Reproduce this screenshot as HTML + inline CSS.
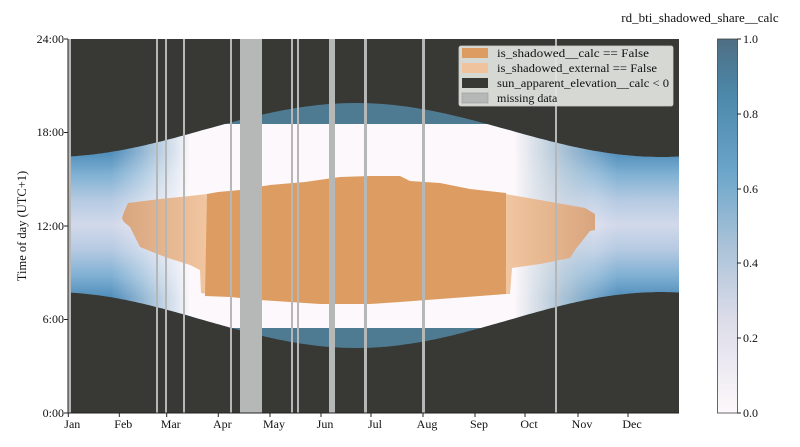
<!DOCTYPE html>
<html><head><meta charset="utf-8"><style>
body{margin:0;background:#fff;width:800px;height:442px;overflow:hidden;font-family:"Liberation Serif",serif;}
svg text{font-family:"Liberation Serif",serif;fill:#111;}
</style></head><body>
<svg id="s" width="800" height="442" viewBox="0 0 800 442" xmlns="http://www.w3.org/2000/svg">
<defs>
<clipPath id="plot"><rect x="68" y="39" width="611" height="374"/></clipPath>
<clipPath id="band"><rect x="0" y="124" width="800" height="204"/></clipPath>
<linearGradient id="wint" gradientUnits="userSpaceOnUse" x1="0" y1="152" x2="0" y2="298">
<stop offset="0" stop-color="#4f8dba"/><stop offset="0.15" stop-color="#7fb0d3"/><stop offset="0.33" stop-color="#b5cae2"/><stop offset="0.5" stop-color="#d2d9ea"/><stop offset="0.67" stop-color="#b5cae2"/><stop offset="0.85" stop-color="#7fb0d3"/><stop offset="1" stop-color="#4f8dba"/>
</linearGradient>
<linearGradient id="wm" gradientUnits="userSpaceOnUse" x1="68" y1="0" x2="679" y2="0">
<stop offset="0" stop-color="#fff"/><stop offset="0.2" stop-color="#fff"/><stop offset="0.27" stop-color="#000"/><stop offset="0.7" stop-color="#000"/><stop offset="0.86" stop-color="#fff"/><stop offset="1" stop-color="#fff"/>
</linearGradient>
<linearGradient id="whm" gradientUnits="userSpaceOnUse" x1="68" y1="0" x2="679" y2="0">
<stop offset="0.07" stop-color="#000"/><stop offset="0.2" stop-color="#fff"/><stop offset="0.73" stop-color="#fff"/><stop offset="0.9" stop-color="#000"/>
</linearGradient>
<mask id="m1"><rect x="0" y="0" width="800" height="442" fill="url(#wm)"/></mask>
<mask id="m2"><rect x="0" y="0" width="800" height="442" fill="url(#whm)"/></mask>
<linearGradient id="lo1" x1="0" y1="0" x2="1" y2="0"><stop offset="0" stop-color="#d8a57e"/><stop offset="1" stop-color="#f1c6a0"/></linearGradient>
<linearGradient id="lo2" x1="0" y1="0" x2="1" y2="0"><stop offset="0" stop-color="#f1c6a0"/><stop offset="1" stop-color="#d8a57e"/></linearGradient>
<linearGradient id="cb" x1="0" y1="1" x2="0" y2="0">
<stop offset="0" stop-color="#fdf8fb"/><stop offset="0.25" stop-color="#dcdce9"/><stop offset="0.45" stop-color="#a9c2d8"/><stop offset="0.65" stop-color="#6aa5c9"/><stop offset="0.85" stop-color="#4c88aa"/><stop offset="1" stop-color="#4e6e83"/>
</linearGradient>
</defs>
<g clip-path="url(#plot)">
<rect x="68" y="39" width="611" height="374" fill="#383834"/>
<path id="day1" fill="#4f7b92"/>
<path id="day2" fill="url(#wint)" mask="url(#m1)"/>
<g clip-path="url(#band)"><path id="day3" fill="#fdf8fb" mask="url(#m2)"/></g>
<path fill="url(#lo1)" d="M122,218 L124,212 L128,203 L160,199 L190,196 L207,194 L207,294 L201,293 L200,270 L190,265 L165,257 L140,247 L130,227 L124,222 Z"/>
<path fill="url(#lo2)" d="M505,194 L540,200 L585,208 L595,214 L595,230 L590,231 L575,250 L570,258 L540,264 L512,268 L510,294 L505,294 Z"/>
<path fill="#dd9d62" d="M207,194 L218,192 L240,190 L270,185 L305,182 L340,177 L370,176 L400,176 L410,181 L440,183 L470,189 L506,193 L506,294 L480,296 L440,299 L400,302 L370,304 L320,304 L290,302 L260,300 L230,297 L205,296 Z"/>
<g fill="#b5b8b7">
<rect x="68" y="39" width="3" height="374"/>
<rect x="156" y="39" width="2" height="374"/>
<rect x="165" y="39" width="2" height="374"/>
<rect x="183" y="39" width="2" height="374"/>
<rect x="230" y="39" width="2" height="374"/>
<rect x="240" y="39" width="22" height="374"/>
<rect x="291" y="39" width="2" height="374"/>
<rect x="297" y="39" width="2" height="374"/>
<rect x="329" y="39" width="6" height="374"/>
<rect x="364" y="39" width="3" height="374"/>
<rect x="422" y="39" width="3" height="374"/>
<rect x="555" y="39" width="2" height="374"/>
</g>
<rect x="459" y="46" width="214" height="60" rx="2" fill="#e2e4e1" fill-opacity="0.93" stroke="#ccc" stroke-width="0.8"/>
<rect x="462" y="48" width="26" height="10" fill="#dd9d62"/>
<rect x="462" y="63" width="26" height="10" fill="#eec39e"/>
<rect x="462" y="78" width="26" height="10" fill="#383834"/>
<rect x="462" y="93" width="26" height="10" fill="#b5b8b7" stroke="#999" stroke-width="0.6"/>
<g font-size="12"><text x="497" y="57" textLength="152" lengthAdjust="spacingAndGlyphs">is_shadowed__calc == False</text><text x="497" y="72" textLength="160" lengthAdjust="spacingAndGlyphs">is_shadowed_external == False</text><text x="497" y="87" textLength="172" lengthAdjust="spacingAndGlyphs">sun_apparent_elevation__calc &lt; 0</text><text x="497" y="102">missing data</text></g>
</g>
<g stroke="#222" stroke-width="1"><line x1="68" y1="39" x2="68" y2="413"/><line x1="68" y1="413" x2="679" y2="413"/></g>
<g font-size="12" text-anchor="end">
<text x="64" y="43">24:00</text><text x="64" y="136">18:00</text><text x="64" y="230">12:00</text><text x="64" y="323">6:00</text><text x="64" y="417">0:00</text>
</g>
<g stroke="#222"><line x1="64" y1="39" x2="68" y2="39"/><line x1="64" y1="132.5" x2="68" y2="132.5"/><line x1="64" y1="226" x2="68" y2="226"/><line x1="64" y1="319.5" x2="68" y2="319.5"/><line x1="64" y1="413" x2="68" y2="413"/></g>
<g font-size="12" text-anchor="middle" id="xl"></g>
<text font-size="12.5" text-anchor="middle" transform="translate(26,226) rotate(-90)">Time of day (UTC+1)</text>
<text font-size="13" x="700" y="22" text-anchor="middle">rd_bti_shadowed_share__calc</text>
<rect x="717.5" y="39" width="20" height="374" fill="url(#cb)" stroke="#444" stroke-width="0.8"/>
<g font-size="12"><text x="743" y="43">1.0</text><text x="743" y="118">0.8</text><text x="743" y="193">0.6</text><text x="743" y="267">0.4</text><text x="743" y="342">0.2</text><text x="743" y="417">0.0</text></g>
<g stroke="#222"><line x1="737" y1="39" x2="741" y2="39"/><line x1="737" y1="114" x2="741" y2="114"/><line x1="737" y1="189" x2="741" y2="189"/><line x1="737" y1="263" x2="741" y2="263"/><line x1="737" y1="338" x2="741" y2="338"/><line x1="737" y1="413" x2="741" y2="413"/></g>
</svg>
<script>
(function(){
var top=[],bot=[];
for(var d=-2;d<=368;d+=2){var x=68.3+d*1.673;var c=Math.cos(2*Math.PI*(d-172)/365);
top.push(x.toFixed(1)+","+(130-27*c).toFixed(1));bot.push(x.toFixed(1)+","+(320+28*c).toFixed(1));}
var p="M"+top.join(" L")+" L"+bot.reverse().join(" L")+"Z";
["day1","day2","day3"].forEach(function(id){document.getElementById(id).setAttribute("d",p);});
var ms=["Jan","Feb","Mar","Apr","May","Jun","Jul","Aug","Sep","Oct","Nov","Dec"],xs=[68.3,119.3,166.7,218.3,270,321,371,423,475,525,578,628];
var g=document.getElementById("xl"),s="";
for(var i=0;i<12;i++){s+='<text x="'+(xs[i]+4)+'" y="428">'+ms[i]+'</text><line x1="'+xs[i]+'" y1="413" x2="'+xs[i]+'" y2="417" stroke="#222"/>';}
g.innerHTML=s;
})();
</script>
</body></html>
